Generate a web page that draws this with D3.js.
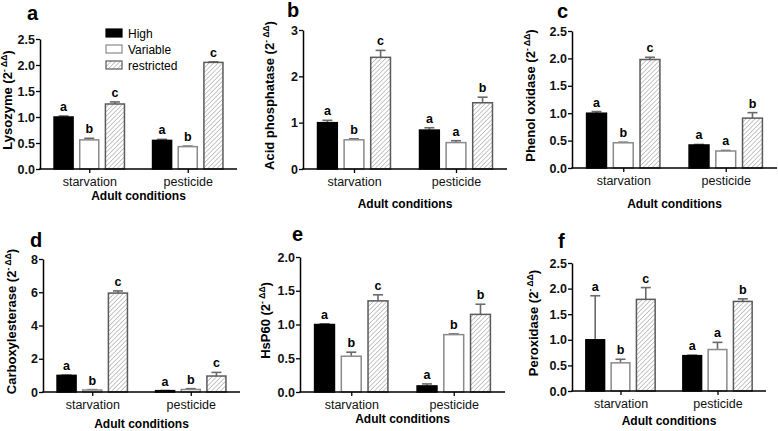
<!DOCTYPE html>
<html><head><meta charset="utf-8">
<script src="https://cdn.jsdelivr.net/npm/d3@7"></script>
<style>
html,body{margin:0;padding:0;background:#fff;}
svg{display:block;font-family:"Liberation Sans",Arial,Helvetica,sans-serif;}
</style></head>
<body><svg id="chart" width="778" height="431"></svg>
<script>
// ---------- data ----------
const categories = ["starvation", "pesticide"];
const seriesNames = ["High", "Variable", "restricted"];
const panelLetters = ["a", "b", "c", "d", "e", "f"];
const yTitles = ["Lysozyme", "Acid phosphatase", "Phenol oxidase", "Carboxylesterase", "HsP60", "Peroxidase"];
const xTitle = "Adult conditions";
const yMax = [2.5, 3, 2.5, 8, 2, 2.5];
const yTickStep = [0.5, 1, 0.5, 2, 0.5, 0.5];
const yTickFormat = [".1f", "d", ".1f", "d", ".1f", ".1f"];

// means [category][series], errors (SEM, upward), significance letters
const lysozymeMean = [[1.00, 0.56, 1.25], [0.55, 0.43, 2.05]];
const lysozymeErr  = [[0.02, 0.03, 0.04], [0.02, 0.01, 0.01]];
const lysozymeSig  = [["a", "b", "c"], ["a", "b", "c"]];

const acidPhosMean = [[1.00, 0.63, 2.41], [0.84, 0.57, 1.43]];
const acidPhosErr  = [[0.05, 0.02, 0.15], [0.05, 0.04, 0.12]];
const acidPhosSig  = [["a", "b", "c"], ["a", "a", "b"]];

const phenolOxMean = [[1.00, 0.46, 1.98], [0.42, 0.31, 0.91]];
const phenolOxErr  = [[0.03, 0.01, 0.04], [0.01, 0.01, 0.10]];
const phenolOxSig  = [["a", "b", "c"], ["a", "a", "b"]];

const carboxylMean = [[1.00, 0.12, 5.95], [0.08, 0.15, 0.96]];
const carboxylErr  = [[0.02, 0.02, 0.13], [0.01, 0.05, 0.22]];
const carboxylSig  = [["a", "b", "c"], ["a", "b", "c"]];

const hsp60Mean = [[1.00, 0.53, 1.35], [0.09, 0.85, 1.15]];
const hsp60Err  = [[0.01, 0.06, 0.09], [0.03, 0.01, 0.15]];
const hsp60Sig  = [["a", "b", "c"], ["a", "b", "b"]];

const peroxMean = [[1.00, 0.55, 1.79], [0.69, 0.81, 1.75]];
const peroxErr  = [[0.86, 0.07, 0.23], [0.01, 0.14, 0.05]];
const peroxSig  = [["a", "b", "c"], ["a", "a", "b"]];

const panelMeans = [lysozymeMean, acidPhosMean, phenolOxMean, carboxylMean, hsp60Mean, peroxMean];
const panelErrs  = [lysozymeErr, acidPhosErr, phenolOxErr, carboxylErr, hsp60Err, peroxErr];
const panelSigs  = [lysozymeSig, acidPhosSig, phenolOxSig, carboxylSig, hsp60Sig, peroxSig];

// ---------- layout (positions in px) ----------
const layout = [
  {lx: 27,  ly: 20,  x0: 40,  x1: 237, yB: 169, yT: 39,  tx: 7,   xtDy: 31},
  {lx: 287, ly: 17,  x0: 303, x1: 507, yB: 169, yT: 30,  tx: 269, xtDy: 39},
  {lx: 557, ly: 18,  x0: 572, x1: 777, yB: 168, yT: 31,  tx: 530, xtDy: 40},
  {lx: 30,  ly: 247, x0: 43,  x1: 240, yB: 392, yT: 259, tx: 11,  xtDy: 36},
  {lx: 292, ly: 241, x0: 300, x1: 505, yB: 392, yT: 257, tx: 265, xtDy: 31},
  {lx: 558, ly: 248, x0: 572, x1: 766, yB: 391, yT: 263, tx: 533, xtDy: 34}
];

const svg = d3.select("#chart");
const defs = svg.append("defs");
const pat = defs.append("pattern").attr("id", "hatch")
  .attr("patternUnits", "userSpaceOnUse").attr("width", 3.2).attr("height", 3.2)
  .attr("patternTransform", "rotate(45)");
pat.append("rect").attr("width", 3.2).attr("height", 3.2).attr("fill", "#fff");
pat.append("line").attr("x1", 0).attr("y1", 0).attr("x2", 0).attr("y2", 3.2)
  .attr("stroke", "#9a9a9a").attr("stroke-width", 1.1);

const fills = ["#000", "#fff", "url(#hatch)"];
const strokes = ["#000", "#8a8a8a", "#5a5a5a"];
const errColor = "#6a6a6a";

panelLetters.forEach((letter, p) => {
  const L = layout[p];
  const g = svg.append("g");
  const y = d3.scaleLinear().domain([0, yMax[p]]).range([L.yB, L.yT]);
  const xc = d3.scalePoint().domain(categories).range([L.x0, L.x1]).padding(0.5);
  const gw = xc.step() * 0.73;
  const xs = d3.scaleBand().domain(seriesNames).range([-gw / 2, gw / 2]).paddingInner(0.2);

  const rows = [];
  categories.forEach((c, ci) => seriesNames.forEach((s, si) => rows.push({
    c, s, si, v: panelMeans[p][ci][si], e: panelErrs[p][ci][si], sig: panelSigs[p][ci][si]
  })));

  // error bars
  rows.forEach(d => {
    const cx = xc(d.c) + xs(d.s) + xs.bandwidth() / 2;
    const top = y(d.v + d.e);
    g.append("line").attr("x1", cx).attr("x2", cx).attr("y1", y(d.v)).attr("y2", top)
      .attr("stroke", errColor).attr("stroke-width", 1.6);
    g.append("line").attr("x1", cx - 5).attr("x2", cx + 5).attr("y1", top).attr("y2", top)
      .attr("stroke", errColor).attr("stroke-width", 1.6);
  });

  // bars
  g.selectAll("rect.bar").data(rows).join("rect").attr("class", "bar")
    .attr("x", d => xc(d.c) + xs(d.s) + 0.75)
    .attr("width", xs.bandwidth() - 1.5)
    .attr("y", d => y(d.v))
    .attr("height", d => Math.max(0, y(0) - y(d.v)))
    .attr("fill", d => fills[d.si]).attr("stroke", d => strokes[d.si]).attr("stroke-width", 1.5);

  // significance letters
  g.selectAll("text.sig").data(rows).join("text").attr("class", "sig")
    .attr("x", d => xc(d.c) + xs(d.s) + xs.bandwidth() / 2)
    .attr("y", d => y(d.v + d.e) - 5)
    .attr("text-anchor", "middle").attr("font-size", 12.5).attr("font-weight", "bold")
    .text(d => d.sig);

  // y axis
  const ticks = d3.range(0, yMax[p] + 1e-9, yTickStep[p]);
  const ya = d3.axisLeft(y).tickValues(ticks).tickFormat(d3.format(yTickFormat[p]))
    .tickSize(4).tickPadding(1).tickSizeOuter(0);
  const yg = g.append("g").attr("transform", `translate(${L.x0},0)`).call(ya);
  yg.select(".domain").attr("stroke-width", 1.5);
  yg.selectAll(".tick line").attr("stroke-width", 1.3);
  yg.selectAll(".tick text").attr("font-size", 12.5).attr("font-weight", "bold").attr("fill", "#111")
    .attr("font-family", "Liberation Sans, Arial, sans-serif");

  // x axis
  g.append("line").attr("x1", L.x0 - 0.75).attr("x2", L.x1).attr("y1", L.yB).attr("y2", L.yB)
    .attr("stroke", "#000").attr("stroke-width", 1.5);
  const xa = d3.axisBottom(xc).tickSize(4).tickPadding(4).tickSizeOuter(0);
  const xg = g.append("g").attr("transform", `translate(0,${L.yB})`).call(xa);
  xg.select(".domain").remove();
  xg.selectAll(".tick line").attr("stroke-width", 1.3);
  xg.selectAll(".tick text").attr("font-size", 12.5).attr("fill", "#111")
    .attr("font-family", "Liberation Sans, Arial, sans-serif");

  // x title
  g.append("text").attr("x", (L.x0 + L.x1) / 2).attr("y", L.yB + L.xtDy)
    .attr("text-anchor", "middle").attr("font-size", 12).attr("font-weight", "bold")
    .text(xTitle);

  // y title
  const yt = g.append("text")
    .attr("transform", `translate(${L.tx},${(L.yB + L.yT) / 2 - 4}) rotate(-90)`)
    .attr("text-anchor", "middle").attr("dy", "0.35em")
    .attr("font-size", 13).attr("font-weight", "bold");
  yt.append("tspan").text(yTitles[p] + " (2");
  yt.append("tspan").attr("font-size", 8.5).attr("dy", -5).text("- \u0394\u0394");
  yt.append("tspan").attr("dy", 5).text(")");

  // panel letter
  g.append("text").attr("x", L.lx).attr("y", L.ly).attr("font-size", 20).attr("font-weight", "bold")
    .text(letter);

  // legend only in panel a
  if (p === 0) {
    const lg = g.append("g");
    seriesNames.forEach((s, i) => {
      lg.append("rect").attr("x", 106).attr("y", 29 + i * 16).attr("width", 16).attr("height", 8)
        .attr("fill", fills[i]).attr("stroke", strokes[i]).attr("stroke-width", 1.2);
      lg.append("text").attr("x", 128).attr("y", 37.5 + i * 16).attr("font-size", 12).text(s);
    });
  }
});
</script>
</body></html>
